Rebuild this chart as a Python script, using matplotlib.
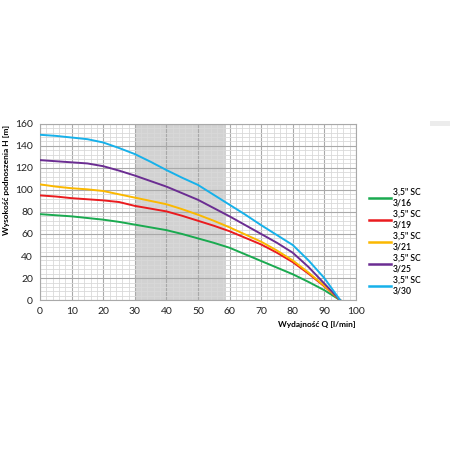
import numpy as np
import matplotlib
matplotlib.use("Agg")
import matplotlib.pyplot as plt
from matplotlib.patches import Rectangle

plt.rcParams["font.family"] = ["Lato", "DejaVu Sans"]

# Flow Q [l/min] at which each curve was read
flow = [0, 5, 10, 15, 20, 25, 30, 35, 40, 45, 50, 55, 60, 65, 70, 75, 80, 85, 90, 95]

# Head H [m] for each pump model
head_3_16 = [78, 77, 76, 74.5, 73, 71, 68.5, 66, 63.5, 60, 56, 52, 47.5, 41.5, 35.5, 29.5, 23.5, 16.5, 9, 0]
head_3_19 = [95, 94, 92.5, 91.5, 90.5, 89, 85.5, 83, 80.5, 76.5, 72, 67.5, 62.5, 56.5, 50.5, 43, 34.5, 24, 12.5, 0]
head_3_21 = [105, 103, 101.5, 100.5, 99, 96, 93, 90, 87, 82.5, 77.5, 72, 66, 59.5, 53, 45, 36, 25, 13, 0]
head_3_25 = [127, 126, 125, 124, 121.5, 117.5, 113, 108, 103, 97, 91, 83.5, 76, 68, 60, 52, 43, 30, 15, 0]
head_3_30 = [150, 149, 147.5, 146, 143, 138, 132.5, 125.5, 118, 111, 104.5, 95.5, 86.5, 77.5, 68, 59, 50, 36, 20, 0]

labels = ['3,5" SC\n3/16', '3,5" SC\n3/19', '3,5" SC\n3/21', '3,5" SC\n3/25', '3,5" SC\n3/30']
colors = ["#1aaa50", "#ea1b1f", "#fbb800", "#6b2d92", "#17b1ea"]

# optimal working range (shaded)
range_lo, range_hi = 30.5, 59

fig = plt.figure(figsize=(4.5, 4.5), dpi=100)
ax = fig.add_axes([0.089, 0.333, 0.702, 0.392])

ax.axvspan(range_lo, range_hi, color="#d2d2d2", zorder=0, lw=0)

for h, lab, c in zip([head_3_16, head_3_19, head_3_21, head_3_25, head_3_30], labels, colors):
    ax.plot(flow, h, color=c, lw=1.4, label=lab, zorder=3)

ax.set_xlim(0, 100)
ax.set_ylim(0, 160)
ax.set_xticks(np.arange(0, 101, 10))
ax.set_yticks(np.arange(0, 161, 20))
ax.set_xticks(np.arange(0, 101, 2), minor=True)
ax.set_yticks(np.arange(0, 161, 4), minor=True)
ax.grid(which="major", color="#a9a9a9", lw=0.8, zorder=1)
ax.grid(which="minor", color="#d9d9d9", lw=0.6, zorder=1)
ax.set_axisbelow(True)
ax.tick_params(which="both", length=0, labelsize=7.5, colors="#222222", pad=5)
for s in ax.spines.values():
    s.set_color("#a9a9a9")
    s.set_linewidth(0.8)

ax.set_ylabel("Wysokość podnoszenia H [m]", fontsize=6, fontweight="bold")
ax.yaxis.set_label_coords(-0.095, 0.68)
ax.set_xlabel("Wydajność Q [l/min]", fontsize=6, fontweight="bold", ha="right")
ax.xaxis.set_label_coords(1.0, -0.12)

leg = ax.legend(loc="upper left", bbox_to_anchor=(1.04, 0.635), frameon=False,
                fontsize=6.2, handlelength=2.6, handletextpad=0.25,
                labelspacing=0.3, borderaxespad=0, borderpad=0)
for line in leg.get_lines():
    line.set_linewidth(1.8)
for t in leg.get_texts():
    t.set_fontweight("semibold")

fig.patches.append(Rectangle((430 / 450, 1 - 126 / 450), 20 / 450, 4.7 / 450,
                             transform=fig.transFigure, color="#ececec", lw=0))

fig.savefig("out.png", dpi=100)
